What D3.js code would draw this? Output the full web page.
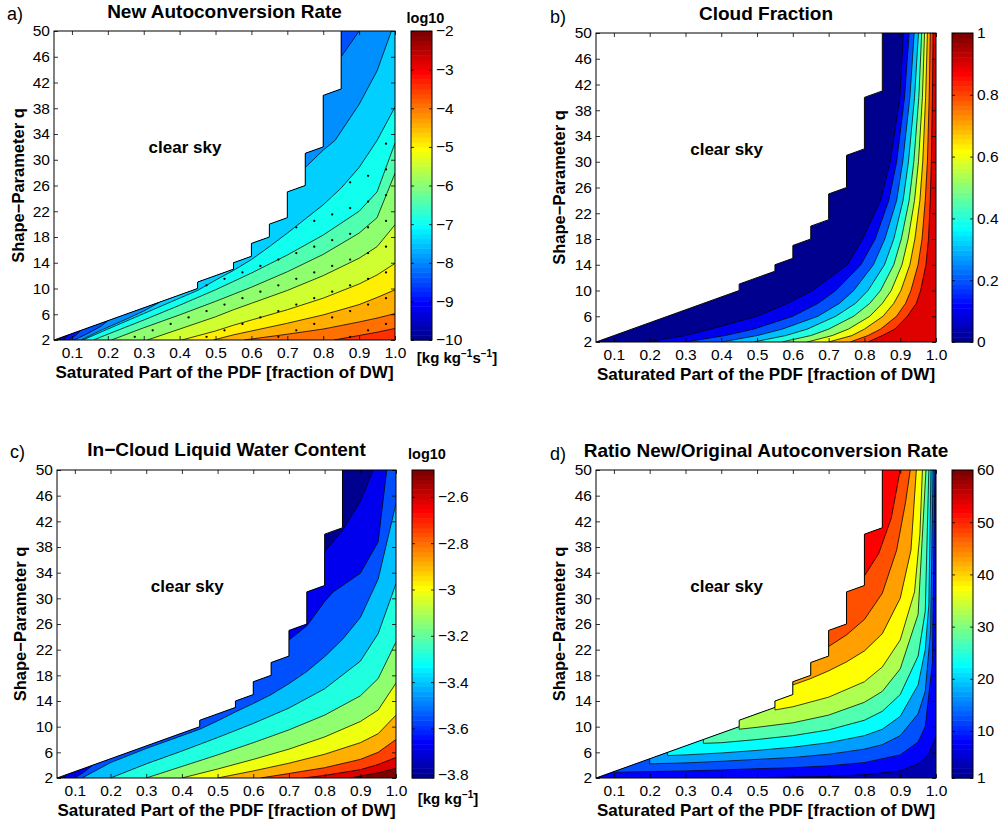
<!DOCTYPE html>
<html>
<head>
<meta charset="utf-8">
<script src="https://cdn.jsdelivr.net/npm/d3@7"></script>
<style>
  body { margin: 0; background: #fff; }
  svg text { font-family: "Liberation Sans", Arial, Helvetica, sans-serif; }
</style>
</head>
<body>
<svg width="1002" height="824"></svg>
<script>
// ---- shared axis data ----
var xTicks = [0.1, 0.2, 0.3, 0.4, 0.5, 0.6, 0.7, 0.8, 0.9, 1.0];
var qTicks = [2, 6, 10, 14, 18, 22, 26, 30, 34, 38, 42, 46, 50];

// edge of the cloudy region (left of it is clear sky), [x, q]
var cloudEdge = [[0.05,2],[0.45,10],[0.45,11],[0.55,13],[0.55,14],[0.6,15],[0.6,17],[0.65,18],
  [0.65,20],[0.7,21],[0.7,25],[0.75,26],[0.75,31],[0.8,32],[0.8,40],[0.85,41],[0.85,50]];

// ---- a) new autoconversion rate (log10) ----
var aLevels = [-9.5, -9, -8.5, -8, -7.5, -7, -6.5, -6, -5.5, -5, -4.5, -4, -3.5];
var aLines = [
  [[[0.065,2],[0.07,2.4]]],
  [[[0.075,2],[0.09,2.8]]],
  [[[0.09,2],[0.11,2.7],[0.125,3.5]]],
  [[[0.105,2],[0.14,2.9],[0.18,4.1],[0.2,5.0]], [[0.85,46],[0.875,48],[0.9,50]]],
  [[[0.125,2],[0.18,3.5],[0.25,5.2],[0.3,6.5],[0.345,7.9]],
   [[0.75,28.8],[0.8,31.5],[0.833,33],[0.9,38.6],[0.95,43.8],[0.99,50]]],
  [[[0.13,2],[0.2,3.7],[0.3,6.1],[0.4,8.5],[0.45,9.7],[0.5,11.3],[0.55,12.8],[0.6,14.5],[0.65,16.5],
    [0.7,18.6],[0.75,20.8],[0.8,23.0],[0.85,25.6],[0.9,28.8],[0.95,33],[1.0,38.2]]],
  [[[0.16,2],[0.2,2.9],[0.3,5.1],[0.4,7.4],[0.5,9.8],[0.55,11.1],[0.6,12.4],[0.7,15.2],[0.8,18.3],
    [0.9,22.0],[0.95,25.0],[1.0,32.6]]],
  [[[0.21,2],[0.3,3.9],[0.4,5.9],[0.5,8.0],[0.55,9.1],[0.6,10.2],[0.7,12.6],[0.8,15.3],[0.9,18.6],
    [0.95,21.0],[1.0,27.9]]],
  [[[0.31,2],[0.4,3.7],[0.5,5.6],[0.55,6.7],[0.6,7.7],[0.7,9.7],[0.8,12.0],[0.9,14.7],[0.95,16.5],[1.0,19.9]]],
  [[[0.406,2],[0.5,3.4],[0.55,4.3],[0.6,5.1],[0.7,6.7],[0.8,8.5],[0.9,10.7],[0.95,12.1],[1.0,13.9]]],
  [[[0.494,2],[0.55,2.8],[0.6,3.4],[0.7,4.6],[0.8,5.9],[0.9,7.5],[0.95,8.6],[1.0,9.8]]],
  [[[0.58,2],[0.7,2.9],[0.8,3.7],[0.9,4.8],[0.95,5.4],[1.0,6.1]]],
  [[[0.83,2],[0.9,2.7],[0.95,3.2],[1.0,3.8]]]
];
var aCbTicks = [-10, -9, -8, -7, -6, -5, -4, -3, -2];
// stippling lattice of panel a
var dotX = [0.075,0.125,0.175,0.225,0.275,0.325,0.375,0.425,0.475,0.525,0.575,0.625,0.675,0.725,
  0.775,0.825,0.875,0.925,0.975];
var dotQ = [2.5,3.5,4.5,5.5,6.5,7.5,8.5,9.5,10.5,11.5,12.5,13.5,14.5,15.5,16.5,17.5,18.5,19.5,20.5,
  21.5,22.5,23.5,24.5,25.5,26.5,27.5,28.5,29.5,30.5,31.5,32.5,33.5,34.5,35.5,36.5,37.5,38.5];

// ---- b) cloud fraction ----
var bLevels = [0.1, 0.2, 0.3, 0.4, 0.5, 0.6, 0.7, 0.8, 0.9];
var bQ = [2, 3, 4, 6, 8, 10, 14, 18, 24, 30, 40, 50];
var bX = [
  [0.19,0.3,0.37,0.5,0.585,0.655,0.752,0.795,0.845,0.872,0.899,0.909],
  [0.3,0.41,0.49,0.6,0.67,0.72,0.79,0.83,0.868,0.89,0.912,0.925],
  [0.4,0.5,0.57,0.67,0.73,0.77,0.825,0.857,0.89,0.907,0.927,0.939],
  [0.49,0.58,0.64,0.72,0.775,0.81,0.856,0.882,0.908,0.923,0.94,0.951],
  [0.57,0.65,0.7,0.77,0.815,0.845,0.882,0.903,0.925,0.938,0.952,0.96],
  [0.64,0.71,0.755,0.815,0.85,0.875,0.905,0.922,0.94,0.951,0.962,0.968],
  [0.7,0.765,0.8,0.852,0.882,0.902,0.927,0.941,0.955,0.963,0.971,0.976],
  [0.76,0.81,0.845,0.89,0.915,0.93,0.95,0.961,0.97,0.976,0.981,0.984],
  [0.81,0.85,0.885,0.92,0.945,0.957,0.972,0.979,0.984,0.987,0.99,0.992]
];
var bCbTicks = [0, 0.2, 0.4, 0.6, 0.8, 1];

// ---- c) in-cloud liquid water content (log10) ----
var cLevels = [-3.681, -3.548, -3.415, -3.282, -3.149, -3.016, -2.883, -2.750, -2.617, -2.484];
var cLines = [
  [[[0.07,2],[0.075,2.5]], [[0.8,37.3],[0.85,40.6],[0.9,45.1],[0.936,50]]],
  [[[0.1,2],[0.125,2.9],[0.15,4]], [[0.7,23.5],[0.75,25.7],[0.8,29.5],[0.824,31],[0.9,33.9],[0.95,38.8],[0.974,50]]],
  [[[0.12,2],[0.15,2.9],[0.2,4.4],[0.3,6.6],[0.4,8.6],[0.45,9.6],[0.5,10.9],[0.55,12.3],[0.6,13.6],
    [0.65,15.0],[0.7,16.7],[0.75,18.6],[0.8,20.9],[0.85,23.6],[0.9,27],[0.95,33],[1.0,44.8]]],
  [[[0.2,2],[0.3,4.2],[0.4,6.2],[0.5,8.3],[0.6,10.5],[0.7,12.9],[0.8,15.9],[0.9,20.2],[0.95,24.5],[1.0,32.3]]],
  [[[0.3,2],[0.4,3.8],[0.5,5.6],[0.6,7.5],[0.7,9.5],[0.8,11.8],[0.9,14.8],[0.95,17.5],[1.0,23.2]]],
  [[[0.4,2],[0.5,3.4],[0.6,4.9],[0.7,6.5],[0.8,8.4],[0.9,10.8],[0.95,12.6],[1.0,16.8]]],
  [[[0.5,2],[0.6,3.1],[0.7,4.3],[0.8,5.7],[0.9,7.5],[0.95,8.9],[1.0,11.8]]],
  [[[0.62,2],[0.7,2.7],[0.8,3.6],[0.9,4.9],[0.95,6.0],[1.0,8.0]]],
  [[[0.74,2],[0.8,2.4],[0.9,3.3],[0.95,4.1],[1.0,5.2]]],
  [[[0.87,2],[0.9,2.3],[0.95,2.8],[1.0,3.5]]]
];
var cCbTicks = [-3.8, -3.6, -3.4, -3.2, -3, -2.8, -2.6];

// ---- d) ratio new / original autoconversion rate ----
var dLevels = [5, 10, 15, 20, 25, 30, 35, 40, 45, 50];
var dLines = [
  [[[0.45,2],[0.7,2.25],[0.8,2.5],[0.9,3.1],[0.95,4.2],[0.98,5.8],[1.0,8.5]]],
  [[[0.1,3],[0.1,2.9],[0.2,3.0],[0.3,3.1],[0.4,3.25],[0.5,3.45],[0.6,3.6],[0.7,3.9],[0.8,4.4],[0.9,5.6],
    [0.95,7.6],[0.97,10],[0.99,20],[0.997,50]]],
  [[[0.2,5],[0.2,4.2],[0.3,4.35],[0.4,4.6],[0.5,4.9],[0.6,5.2],[0.7,5.7],[0.8,6.5],[0.85,7.2],[0.9,8.6],
    [0.95,12],[0.97,15.5],[0.985,25],[0.992,50]]],
  [[[0.25,6],[0.25,5.5],[0.3,5.6],[0.4,5.9],[0.5,6.3],[0.6,6.8],[0.7,7.5],[0.8,8.6],[0.85,9.6],[0.9,11.6],
    [0.95,16.5],[0.97,22],[0.98,29],[0.986,50]]],
  [[[0.35,8],[0.35,7.4],[0.4,7.5],[0.5,8.0],[0.6,8.6],[0.7,9.5],[0.8,11],[0.85,12.4],[0.9,15],[0.95,21],
    [0.97,28],[0.98,50]]],
  [[[0.45,10],[0.45,9.6],[0.5,9.9],[0.6,10.6],[0.7,11.8],[0.8,13.8],[0.85,15.5],[0.9,19],[0.95,27.5],[0.972,50]]],
  [[[0.55,13],[0.55,12.6],[0.6,13.1],[0.7,14.6],[0.8,17.0],[0.85,19.3],[0.9,23.5],[0.94,31],[0.955,40],[0.962,50]]],
  [[[0.6,16.5],[0.65,17.5],[0.7,18.7],[0.75,20.1],[0.8,21.8],[0.85,24.5],[0.9,30],[0.93,37.5],[0.945,50]]],
  [[[0.7,22.5],[0.75,24.3],[0.8,26.7],[0.85,30.8],[0.89,37.5],[0.915,45],[0.928,50]]],
  [[[0.8,33.5],[0.84,37],[0.875,42.5],[0.9,50]]]
];
var dCbTicks = [1, 10, 20, 30, 40, 50, 60];

// ---------------------------------------------------------------
var svg = d3.select("svg");
var FONT = '"Liberation Sans", Arial, Helvetica, sans-serif';

// matlab style jet(64)
function jet64() {
  var n = 16, u = [], J = [], i;
  for (i = 1; i <= n; i++) u.push(i / n);
  for (i = 0; i < n - 1; i++) u.push(1);
  for (i = n; i >= 1; i--) u.push(i / n);
  for (i = 0; i < 64; i++) J.push([0, 0, 0]);
  u.forEach(function (v, k) {
    var row = k + 1 + 8;
    J[row - 1][1] = v;
    if (row + n <= 64) J[row + n - 1][0] = v;
    if (row - n >= 1) J[row - n - 1][2] = v;
  });
  return J.map(function (c) { return d3.rgb(c[0] * 255, c[1] * 255, c[2] * 255).toString(); });
}
var jet = jet64();
function colorOf(v, clim) {
  var k = Math.floor((v - clim[0]) / (clim[1] - clim[0]) * 64 + 1e-6);
  return jet[Math.max(0, Math.min(63, k))];
}

// closing a level region along the frame (clockwise), clear sky lies left of the edge
var X0 = 0.05, X1 = 1, Q0 = 2, Q1 = 50;
var corners = [[X0, Q1], [X1, Q1], [X1, Q0], [X0, Q0]];
function perim(p) {
  var e = 1e-6;
  if (p[1] >= Q1 - e) return { t: 1 + (p[0] - X0) / (X1 - X0) };
  if (p[0] >= X1 - e) return { t: 2 + (Q1 - p[1]) / (Q1 - Q0) };
  if (p[1] <= Q0 + e && p[0] > X0 + e) return { t: 3 + (X1 - p[0]) / (X1 - X0) };
  return { t: (p[1] - Q0) / (Q1 - Q0), proj: [X0, p[1]] };
}
function walk(a, b) {
  var pa = perim(a), pb = perim(b), out = [];
  if (pa.proj) out.push(pa.proj);
  var ta = pa.t, tb = pb.t;
  if (tb <= ta) tb += 4;
  for (var k = 1; k <= 8; k++) if (k > ta && k < tb) out.push(corners[(k - 1) % 4]);
  if (pb.proj) out.push(pb.proj);
  return out;
}
function region(pieces, flip) {
  var ps = pieces.map(function (pc) { return flip ? pc.slice().reverse() : pc; });
  if (flip) ps = ps.slice().reverse();
  var out = [];
  ps.forEach(function (pc, i) {
    var nx = ps[(i + 1) % ps.length];
    out = out.concat(pc, walk(pc[pc.length - 1], nx[0]));
  });
  return out;
}

function tidy(sel) {
  sel.select(".domain").remove();
  sel.attr("font-size", 15.5).attr("font-family", FONT);
  sel.selectAll(".tick line").attr("stroke", "#000").attr("stroke-width", 0.8);
}
function fmt(d) { return String(d).replace("-", "\u2212"); }

function addText(g, x, y, txt, size, bold, anchor) {
  return g.append("text").attr("x", x).attr("y", y).attr("font-size", size)
    .attr("font-weight", bold ? "bold" : "normal").attr("text-anchor", anchor || "start")
    .attr("fill", "#000").text(txt);
}
function addUnits(g, x, y, parts) {
  var t = g.append("text").attr("x", x).attr("y", y).attr("font-size", 15)
    .attr("font-weight", "bold").attr("text-anchor", "middle");
  var up = false;
  parts.forEach(function (p) {
    var sup = p[1] === 1;
    var ts = t.append("tspan").text(p[0]);
    if (sup) ts.attr("font-size", 10).attr("dy", up ? 0 : -6);
    else if (up) ts.attr("dy", 6);
    up = sup;
  });
}

function drawPanel(p) {
  var g = svg.append("g");
  var box = p.box;
  var shift = p.colorShift || 0;
  var x = d3.scaleLinear().domain([X0, X1]).range([box.l, box.r]);
  var y = d3.scaleLinear().domain([Q0, Q1]).range([box.b, box.t]);
  var line = d3.line().x(function (d) { return x(d[0]); }).y(function (d) { return y(d[1]); });
  var valid = cloudEdge.concat([[X1, Q1], [X1, Q0]]);

  g.append("clipPath").attr("id", "clip-" + p.id).append("path").attr("d", line(valid) + "Z");
  var fills = g.append("g").attr("clip-path", "url(#clip-" + p.id + ")");
  fills.append("path").attr("d", line(valid) + "Z").attr("fill", colorOf(p.clim[0] + shift, p.clim));

  var polys = p.levels.map(function (L, i) { return region(p.lines[i], p.flip); });
  polys.forEach(function (poly, i) {
    var col = colorOf(p.levels[i] + shift, p.clim);
    fills.append("path").attr("d", line(poly) + "Z").attr("fill", col)
      .attr("stroke", col).attr("stroke-width", 0.3);
  });
  p.lines.forEach(function (pieces) {
    pieces.forEach(function (pc) {
      fills.append("path").attr("d", line(pc)).attr("fill", "none")
        .attr("stroke", "#000").attr("stroke-width", 0.75);
    });
  });

  if (p.dots) {
    var mask = polys[p.dots.level];
    dotX.forEach(function (dx, i) {
      dotQ.forEach(function (dq, j) {
        if ((j - i + 400) % 4 !== 0) return;
        if (!d3.polygonContains(mask, [dx, dq]) || !d3.polygonContains(valid, [dx, dq])) return;
        fills.append("circle").attr("cx", x(dx)).attr("cy", y(dq)).attr("r", 1.15).attr("fill", "#000");
      });
    });
  }

  g.append("path").attr("d", line(cloudEdge)).attr("fill", "none")
    .attr("stroke", "#000").attr("stroke-width", 1);

  // axes with inward ticks
  g.append("g").attr("transform", "translate(0," + box.b + ")")
    .call(d3.axisBottom(x).tickValues(xTicks).tickFormat(d3.format(".1f")).tickSize(-4).tickPadding(7))
    .call(tidy);
  g.append("g").attr("transform", "translate(0," + box.t + ")")
    .call(d3.axisTop(x).tickValues(xTicks).tickFormat(function () { return ""; }).tickSize(-4))
    .call(tidy);
  g.append("g").attr("transform", "translate(" + box.l + ",0)")
    .call(d3.axisLeft(y).tickValues(qTicks).tickSize(-4).tickPadding(4))
    .call(tidy);
  g.append("g").attr("transform", "translate(" + box.r + ",0)")
    .call(d3.axisRight(y).tickValues(qTicks).tickFormat(function () { return ""; }).tickSize(-4))
    .call(tidy);
  g.append("rect").attr("x", box.l).attr("y", box.t).attr("width", box.r - box.l)
    .attr("height", box.b - box.t).attr("fill", "none").attr("stroke", "#000").attr("stroke-width", 1);

  addText(g, x(0.415), y(31), "clear sky", 17, true, "middle");

  // titles and labels
  addText(g, (box.l + box.r) / 2, p.titleY, p.title, 19, true, "middle");
  addText(g, p.tagX, p.tagY, p.tag, 18, false, "start");
  addText(g, (box.l + box.r) / 2, p.xLabY, "Saturated Part of the PDF [fraction of DW]", 17, true, "middle");
  g.append("text").attr("transform", "translate(" + p.yLabX + "," + (box.t + box.b) / 2 + ") rotate(-90)")
    .attr("font-size", 16.5).attr("font-weight", "bold").attr("text-anchor", "middle")
    .text("Shape\u2212Parameter q");

  // colorbar
  var cb = p.cb;
  var cy = d3.scaleLinear().domain(p.clim).range([box.b, box.t]);
  var step = (p.clim[1] - p.clim[0]) / 64;
  g.selectAll(null).data(jet).enter().append("rect")
    .attr("x", cb.l).attr("width", cb.r - cb.l)
    .attr("y", function (c, i) { return cy(p.clim[0] + (i + 1) * step); })
    .attr("height", function (c, i) { return cy(p.clim[0] + i * step) - cy(p.clim[0] + (i + 1) * step) + 0.5; })
    .attr("fill", function (c) { return c; });
  g.append("g").attr("transform", "translate(" + cb.r + ",0)")
    .call(d3.axisRight(cy).tickValues(p.cbTicks).tickFormat(fmt).tickSize(-3).tickPadding(4))
    .call(tidy);
  g.append("g").attr("transform", "translate(" + cb.l + ",0)")
    .call(d3.axisLeft(cy).tickValues(p.cbTicks).tickFormat(function () { return ""; }).tickSize(-3))
    .call(tidy);
  g.append("rect").attr("x", cb.l).attr("y", box.t).attr("width", cb.r - cb.l)
    .attr("height", box.b - box.t).attr("fill", "none").attr("stroke", "#000").attr("stroke-width", 1);

  if (p.logY) addText(g, (cb.l + cb.r) / 2 + 4, p.logY, "log10", 14.5, true, "middle");
  if (p.units) addUnits(g, p.unitsX, p.unitsY, p.units);
}

var panels = [
  { id: "a", levels: aLevels, lines: aLines, clim: [-10, -2], cbTicks: aCbTicks, flip: false,
    dots: { level: 5 },
    box: { l: 54, r: 395, t: 31, b: 340 }, cb: { l: 411, r: 432 },
    title: "New Autoconversion Rate", titleY: 17.5, tag: "a)", tagX: 7, tagY: 19.5,
    xLabY: 378, yLabX: 24, logY: 22.5,
    units: [["[kg kg", 0], ["\u22121", 1], ["s", 0], ["\u22121", 1], ["]", 0]], unitsX: 457, unitsY: 363 },
  { id: "b", levels: bLevels, clim: [0, 1], cbTicks: bCbTicks, flip: false,
    lines: bX.map(function (row) { return [row.map(function (xv, j) { return [xv, bQ[j]]; })]; }),
    box: { l: 596, r: 936, t: 33, b: 342 }, cb: { l: 952, r: 973 },
    title: "Cloud Fraction", titleY: 19.5, tag: "b)", tagX: 550, tagY: 23,
    xLabY: 379.5, yLabX: 565 },
  { id: "c", levels: cLevels, lines: cLines, clim: [-3.814, -2.484], cbTicks: cCbTicks, flip: false,
    box: { l: 57, r: 396, t: 470, b: 778 }, cb: { l: 412, r: 434 },
    title: "In\u2212Cloud Liquid Water Content", titleY: 455.5, tag: "c)", tagX: 10, tagY: 458,
    xLabY: 815.5, yLabX: 25.5, logY: 459,
    units: [["[kg kg", 0], ["\u22121", 1], ["]", 0]], unitsX: 448, unitsY: 804 },
  { id: "d", levels: dLevels, lines: dLines, clim: [1, 60], cbTicks: dCbTicks, flip: true, colorShift: 2.5,
    box: { l: 596, r: 936, t: 470, b: 778 }, cb: { l: 952, r: 973 },
    title: "Ratio New/Original Autoconversion Rate", titleY: 457, tag: "d)", tagX: 550, tagY: 459.5,
    xLabY: 815.5, yLabX: 565 }
];

panels.forEach(drawPanel);
</script>
</body>
</html>
